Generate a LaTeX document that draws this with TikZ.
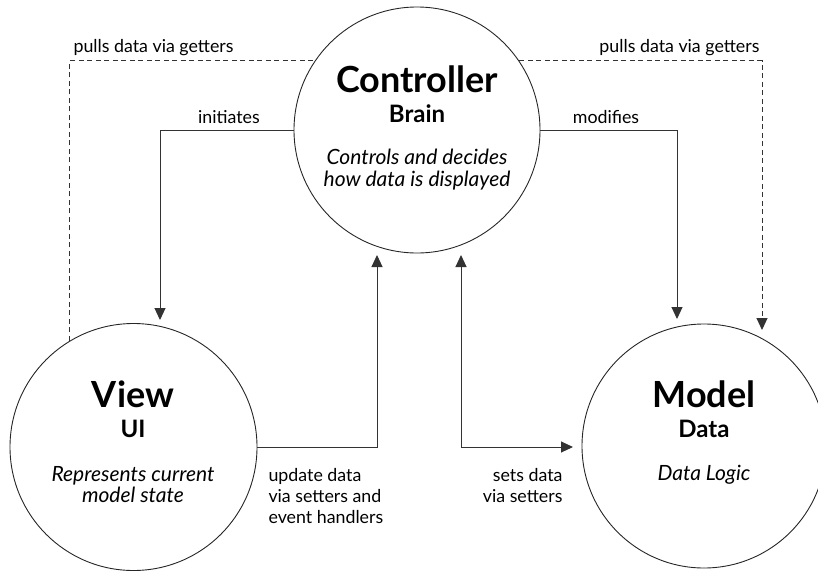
\documentclass[tikz,border=0pt]{standalone}
\usepackage{fontspec}
\setmainfont{Lato}
\usetikzlibrary{arrows.meta}
\begin{document}
\begin{tikzpicture}[x=1pt,y=-1pt,
  role/.style={circle,draw=black!85,line width=0.9pt,inner sep=0pt},
  link/.style={draw=black!80,line width=1pt},
  tip/.style={-{Triangle[length=12pt,width=11pt]}},
  pulls/.style={link,dash pattern=on 5pt off 3.5pt},
  title/.style={anchor=base,font=\fontsize{36}{40}\selectfont\bfseries},
  sub/.style={anchor=base,font=\fontsize{24}{26}\selectfont\bfseries},
  desc/.style={anchor=base,font=\fontsize{21}{24}\selectfont\itshape},
  lbl/.style={anchor=base,font=\fontsize{17.8}{21}\selectfont}]
\useasboundingbox (0,0) rectangle (818,570);

% the three roles
\node[role,minimum size=246pt] (ctrl) at (417,130) {};
\node[role,minimum size=247pt] (view) at (133.5,447) {};
\node[role,minimum size=244pt] (model) at (704,446) {};

\node[title] (ctrlT) at (417,92) {Controller};
\node[sub] (ctrlS) at (417,122) {Brain};
\node[desc] (ctrlD1) at (417,164) {Controls and decides};
\node[desc] (ctrlD2) at (417,186) {how data is displayed};

\node[title] (viewT) at (133,407) {View};
\node[sub] (viewS) at (133,437) {UI};
\node[desc] (viewD1) at (133,481) {Represents current};
\node[desc] (viewD2) at (133,502) {model state};

\node[title] (modelT) at (704,407) {Model};
\node[sub] (modelS) at (704,437) {Data};
\node[desc] (modelD) at (704,480) {Data Logic};

% arrow end points
\coordinate (vIn) at (160,320);
\coordinate (mIn) at (677,319);
\coordinate (mPull) at (762,330);
\coordinate (cUp) at (377,255);
\coordinate (cSet) at (461,255);
\coordinate (mSet) at (573,447);

% connectors
\draw[link,tip] (ctrl.west) -| (vIn);
\draw[link,tip] (ctrl.east) -| (mIn);
\draw[pulls] (view.121) |- (ctrl.146);
\draw[pulls,tip] (ctrl.34) -| (mPull);
\draw[link,tip] (view.east) -| (cUp);
\draw[link,{Triangle[length=12pt,width=11pt]}-{Triangle[length=12pt,width=11pt]}] (cSet) |- (mSet);

% connector labels
\node[lbl,anchor=base west] (pl) at (70,52) {pulls data via getters};
\node[lbl,anchor=base east] (pr) at (763,52) {pulls data via getters};
\node[lbl] (ini) at (229,123) {initiates};
\node[lbl] (mod) at (606,123) {modifies};
\node[lbl,anchor=base west] (up1) at (265,481) {update data};
\node[lbl,anchor=base west] (up2) at (265,502) {via setters and};
\node[lbl,anchor=base west] (up3) at (265,523) {event handlers};
\node[lbl,anchor=base east] (st1) at (566,481) {sets data};
\node[lbl,anchor=base east] (st2) at (566,502) {via setters};
\end{tikzpicture}
\end{document}
